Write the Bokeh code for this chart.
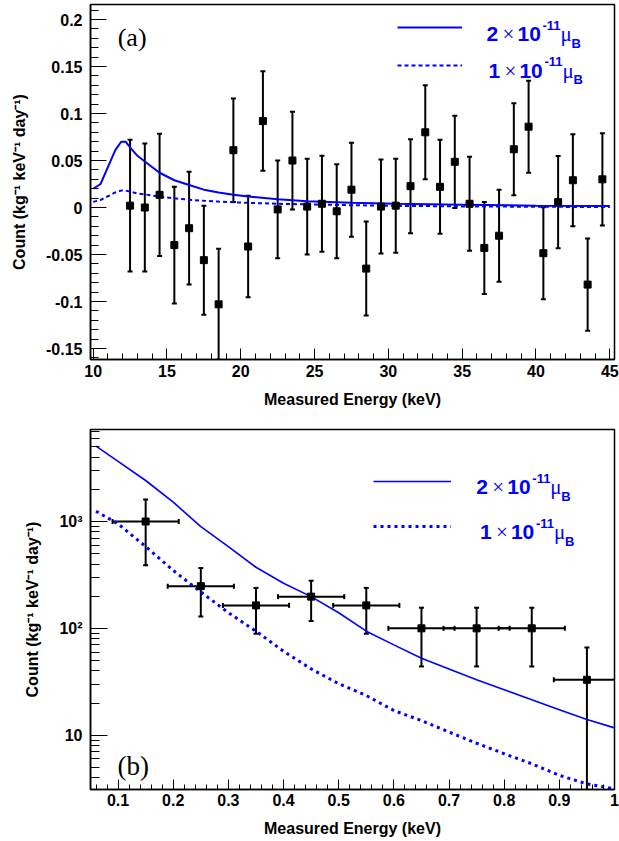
from bokeh.plotting import figure
from bokeh.layouts import column
from bokeh.models import (ColumnDataSource, Whisker, TeeHead, Label, Legend, LegendItem,
                          SingleIntervalTicker, FixedTicker, CustomJSTickFormatter, Range1d)
from bokeh.embed import file_html
from bokeh.resources import INLINE

# ---------------- data: panel (a) ----------------
a_energy = [12.5, 13.5, 14.5, 15.5, 16.5, 17.5, 18.5, 19.5, 20.5, 21.5, 22.5,
            23.5, 24.5, 25.5, 26.5, 27.5, 28.5, 29.5, 30.5, 31.5, 32.5, 33.5,
            34.5, 35.5, 36.5, 37.5, 38.5, 39.5, 40.5, 41.5, 42.5, 43.5, 44.5]
a_count = [0.002, 0.000, 0.0135, -0.040, -0.022, -0.056, -0.103, 0.061, -0.0415,
           0.092, -0.002, 0.050, 0.001, 0.004, -0.004, 0.019, -0.065, 0.001, 0.002,
           0.0227, 0.080, 0.022, 0.0486, 0.004, -0.043, -0.030, 0.062, 0.086,
           -0.0486, 0.0057, 0.029, -0.082, 0.030]
a_err = [0.070, 0.068, 0.065, 0.062, 0.060, 0.058, 0.059, 0.055, 0.054, 0.053, 0.052,
         0.052, 0.051, 0.051, 0.050, 0.050, 0.050, 0.050, 0.050, 0.050, 0.050, 0.050,
         0.049, 0.050, 0.049, 0.049, 0.049, 0.049, 0.049, 0.049, 0.049, 0.049, 0.049]

a_curve_x = [10, 10.5, 11, 11.5, 11.9, 12.2, 12.5, 13, 13.5, 14.5, 15.5, 16.5, 17.5,
             18.5, 19.5, 20.5, 22.5, 24.5, 27.5, 30.5, 35, 40, 45]
a_curve_2 = [0.020, 0.025, 0.043, 0.061, 0.070, 0.070, 0.064, 0.055, 0.049, 0.037,
             0.029, 0.024, 0.019, 0.016, 0.0135, 0.0117, 0.0089, 0.0067, 0.005,
             0.004, 0.003, 0.002, 0.0015]
a_curve_1 = [0.006, 0.008, 0.012, 0.016, 0.018, 0.018, 0.017, 0.015, 0.014, 0.0115,
             0.0098, 0.0083, 0.0072, 0.0063, 0.0056, 0.005, 0.004, 0.0033, 0.0025,
             0.0018, 0.0012, 0.0008, 0.0005]

# ---------------- data: panel (b) ----------------
b_energy = [0.15, 0.25, 0.35, 0.45, 0.55, 0.65, 0.75, 0.85, 0.95]
b_count = [1000, 248, 164, 198, 164, 100, 100, 100, 33]
b_err = [610, 119, 75, 81, 75, 56, 56, 56, 33]
b_xerr = [0.06, 0.06, 0.06, 0.06, 0.06, 0.06, 0.06, 0.06, 0.06]

b_curve_x = [0.06, 0.1, 0.15, 0.2, 0.25, 0.3, 0.35, 0.4, 0.45, 0.5, 0.55, 0.6, 0.65,
             0.7, 0.75, 0.8, 0.85, 0.9, 0.95, 1.0]
b_curve_2 = [5070, 3650, 2420, 1516, 897, 583, 373, 264, 198, 140, 94, 70, 52.5,
             41.7, 33, 26.6, 21.4, 17.3, 14.0, 11.7]
b_curve_1 = [1249, 950, 583, 348, 219, 140, 94, 61, 41.7, 30.3, 23.5, 17.0, 13.7,
             10.7, 8.4, 6.7, 5.4, 4.2, 3.5, 3.15]

b_major_ticks = [10, 100, 1000]
b_major_labels = {10: "10", 100: "10\u00b2", 1000: "10\u00b3"}
b_minor_ticks = [4, 5, 6, 7, 8, 9, 20, 30, 40, 50, 60, 70, 80, 90,
                 200, 300, 400, 500, 600, 700, 800, 900, 2000, 3000, 4000, 5000, 6000, 7000]

legend_digits = ["2", "1"]
y_title = "Count (kg\u207b\u00b9 keV\u207b\u00b9 day\u207b\u00b9)"
x_title = "Measured Energy (keV)"

SANS = "Liberation Sans"
SERIF = "Liberation Serif"
BLUE = "#0000ff"


def style(p):
    p.outline_line_color = "black"
    p.outline_line_width = 1.5
    p.grid.visible = False
    for ax in (p.xaxis[0], p.yaxis[0]):
        ax.axis_line_width = 1.5
        ax.axis_line_color = "black"
        ax.major_tick_out = 0
        ax.minor_tick_out = 0
        ax.major_tick_line_color = "black"
        ax.minor_tick_line_color = "black"
        ax.major_label_text_font = SANS
        ax.major_label_text_font_style = "bold"
        ax.major_label_text_font_size = "16px"
        ax.major_label_text_color = "black"
        ax.axis_label_text_font = SANS
        ax.axis_label_text_font_style = "bold"
        ax.axis_label_text_font_size = "16px"
        ax.axis_label_text_color = "black"
    p.xaxis[0].major_tick_in = 11
    p.xaxis[0].minor_tick_in = 6
    p.yaxis[0].major_tick_in = 16
    p.yaxis[0].minor_tick_in = 8
    p.xaxis[0].major_label_standoff = 5
    p.yaxis[0].major_label_standoff = 8
    p.xaxis[0].axis_label_standoff = 11
    p.yaxis[0].axis_label_standoff = 15


def mu_text(p, x, y, digit):
    # pieces: text, x offset, y offset, size, style, font
    pieces = [(digit, 0, 0, "21px", "bold", SANS),
              ("\u00d7", 16, 0, "21px", "normal", SERIF),
              ("10", 31, 0, "21px", "bold", SANS),
              ("-11", 56, 9, "13px", "bold", SANS),
              ("\u03bc", 74, 0, "21px", "normal", SERIF),
              ("B", 85, -9, "13px", "bold", SANS)]
    for t, dx, dy, fs, st, fn in pieces:
        p.add_layout(Label(x=x, y=y, x_offset=dx, y_offset=dy, text=t,
                           text_font=fn, text_font_size=fs, text_font_style=st,
                           text_color=BLUE, text_align="left", text_baseline="alphabetic"))


def legend_lines(p, r2, r1, loc, gw, spacing):
    leg = Legend(items=[LegendItem(label=" ", renderers=[r2]),
                        LegendItem(label=" ", renderers=[r1])],
                 location=loc, glyph_width=gw, glyph_height=20, spacing=spacing,
                 padding=0, margin=0, label_width=0, label_standoff=0,
                 label_text_font_size="1px", border_line_alpha=0,
                 background_fill_alpha=0)
    p.add_layout(leg)


# ---------------- panel (a) ----------------
pa = figure(width=619, height=415, output_backend="svg", toolbar_location=None,
            x_range=Range1d(9.82, 45.32), y_range=Range1d(-0.1617, 0.216),
            min_border_left=90, min_border_right=5, min_border_top=4, min_border_bottom=56)
style(pa)
pa.xaxis[0].ticker = SingleIntervalTicker(interval=5, num_minor_ticks=5)
pa.yaxis[0].ticker = SingleIntervalTicker(interval=0.05, num_minor_ticks=5)
pa.yaxis[0].formatter = CustomJSTickFormatter(code="return Number(tick.toFixed(3)).toString();")
pa.xaxis[0].axis_label = x_title
pa.yaxis[0].axis_label = y_title

ra2 = pa.line(a_curve_x, a_curve_2, line_color=BLUE, line_width=2)
ra1 = pa.line(a_curve_x, a_curve_1, line_color=BLUE, line_width=2, line_dash="4 3")

src_a = ColumnDataSource(dict(x=a_energy, y=a_count,
                              lo=[c - e for c, e in zip(a_count, a_err)],
                              hi=[c + e for c, e in zip(a_count, a_err)]))
pa.add_layout(Whisker(source=src_a, base="x", lower="lo", upper="hi", dimension="height",
                      line_color="black", line_width=2,
                      lower_head=TeeHead(size=5, line_width=2, line_color="black"),
                      upper_head=TeeHead(size=5, line_width=2, line_color="black")))
pa.scatter("x", "y", source=src_a, marker="square", size=7, color="black")

legend_lines(pa, ra2, ra1, (307, 284), 65, 18)
mu_text(pa, 36.65, 0.1845, legend_digits[0])
mu_text(pa, 36.78, 0.1454, legend_digits[1])
pa.add_layout(Label(x=12.64, y=0.1804, text="(a)", text_font=SERIF, text_font_size="26px",
                    text_align="center", text_baseline="alphabetic", text_color="black"))

# ---------------- panel (b) ----------------
pb = figure(width=619, height=425, output_backend="svg", toolbar_location=None,
            x_range=Range1d(0.05, 1.0), y_range=Range1d(3.1, 7265), y_axis_type="log",
            min_border_left=90, min_border_right=0, min_border_top=14, min_border_bottom=51)
style(pb)
pb.xaxis[0].major_tick_in = 10
pb.xaxis[0].minor_tick_in = 5
pb.yaxis[0].major_tick_in = 17
pb.yaxis[0].minor_tick_in = 9
pb.xaxis[0].major_label_standoff = 4
pb.xaxis[0].axis_label_standoff = 11
pb.xaxis[0].ticker = SingleIntervalTicker(interval=0.1, num_minor_ticks=5)
pb.xaxis[0].formatter = CustomJSTickFormatter(code="return Number(tick.toFixed(2)).toString();")
pb.yaxis[0].ticker = FixedTicker(ticks=b_major_ticks, minor_ticks=b_minor_ticks)
pb.yaxis[0].major_label_overrides = b_major_labels
pb.xaxis[0].axis_label = x_title
pb.yaxis[0].axis_label = y_title

rb2 = pb.line(b_curve_x, b_curve_2, line_color=BLUE, line_width=1.6)
rb1 = pb.line(b_curve_x, b_curve_1, line_color=BLUE, line_width=3, line_dash="3 4")

src_b = ColumnDataSource(dict(x=b_energy, y=b_count,
                              lo=[max(c - e, 0.5) for c, e in zip(b_count, b_err)],
                              hi=[c + e for c, e in zip(b_count, b_err)],
                              xlo=[x - e for x, e in zip(b_energy, b_xerr)],
                              xhi=[x + e for x, e in zip(b_energy, b_xerr)]))
for dim, base, lo, hi in (("height", "x", "lo", "hi"), ("width", "y", "xlo", "xhi")):
    pb.add_layout(Whisker(source=src_b, base=base, lower=lo, upper=hi, dimension=dim,
                          line_color="black", line_width=2,
                          lower_head=TeeHead(size=5, line_width=2, line_color="black"),
                          upper_head=TeeHead(size=5, line_width=2, line_color="black")))
pb.scatter("x", "y", source=src_b, marker="square", size=7, color="black")

legend_lines(pb, rb2, rb1, (283, 253), 78, 25)
mu_text(pb, 0.7495, 2094, legend_digits[0])
mu_text(pb, 0.756, 794, legend_digits[1])
pb.add_layout(Label(x=0.1273, y=5.18, text="(b)", text_font=SERIF, text_font_size="27px",
                    text_align="center", text_baseline="alphabetic", text_color="black"))

layout = column(pa, pb)
open("out.html", "w").write(file_html(layout, INLINE))
